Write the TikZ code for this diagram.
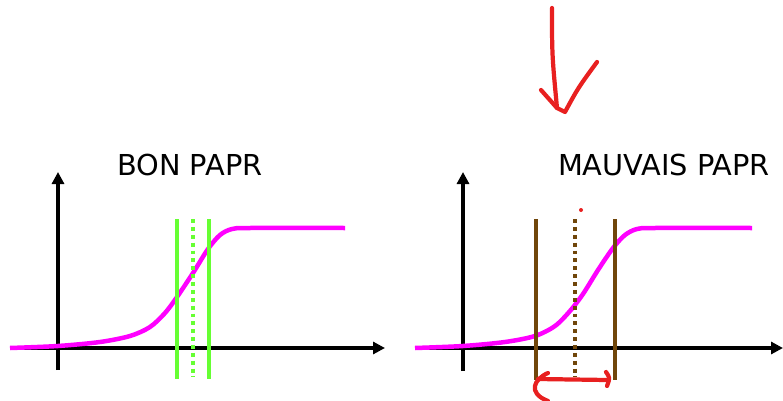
\documentclass[tikz,border=0pt]{standalone}
\usepackage{fontspec}
\setmainfont{DejaVu Sans}
\usepackage{tikz}
\usetikzlibrary{arrows.meta,positioning}
\definecolor{sigmag}{RGB}{255,0,255}
\definecolor{bongreen}{RGB}{102,255,51}
\definecolor{badbrown}{RGB}{112,70,10}
\definecolor{penred}{RGB}{232,32,32}
\tikzset{
    axis/.style={draw, line width=3pt, -{Triangle[length=3mm, width=3mm]}},
    curve/.style={draw=sigmag, line width=3.2pt},
    goodline/.style={draw=bongreen, line width=3.4pt},
    gooddots/.style={draw=bongreen, line width=3.2pt, dash pattern=on 2.8pt off 2.8pt},
    badline/.style={draw=badbrown, line width=3.2pt},
    baddots/.style={draw=badbrown, line width=3pt, dash pattern=on 2.8pt off 2.8pt},
    pen/.style={draw=penred, line width=3pt, line cap=round, line join=round},
    title/.style={anchor=base, font=\fontsize{20.5}{24}\selectfont}
}
\begin{document}
\begin{tikzpicture}[x=0.025cm, y=-0.025cm]
    \useasboundingbox (0,0) rectangle (783,401);

    % titles
    \node[title] (bon) at (190,175) {BON PAPR};
    \node[title] (mauvais) at (664,175) {MAUVAIS PAPR};

    % left axes
    \coordinate (oL) at (58,348);
    \draw[axis] (58,370) -- (58,172);
    \draw[axis] (12,348) -- (385,348);
    \draw[curve] plot[smooth, tension=0.5] coordinates {(10,348) (58,346) (100,342) (130,336) (150,327) (165,313) (177,297) (193,273) (208,249) (220,235) (232,229) (250,228) (345,228)};
    \draw[goodline] (177,219) -- (177,379);
    \draw[goodline] (209,219) -- (209,379);
    \draw[gooddots] (193,219) -- (193,377);

    % right axes
    \coordinate (oR) at (463,348);
    \draw[axis] (463,371) -- (463,172);
    \draw[axis] (416,348) -- (783,348);
    \draw[curve] plot[smooth, tension=0.5] coordinates {(415,348) (463,346) (505,342) (535,336) (555,326) (570,311) (583,294) (598,270) (613,248) (625,235) (637,229) (655,228) (752,228)};
    \draw[badline] (536,219) -- (536,380);
    \draw[badline] (615,219) -- (615,380);
    \draw[baddots] (575,219) -- (575,377);
    \fill[penred] (581,210) circle (2);

    % hand arrows
    \draw[pen] (552,8) .. controls (552,55) .. (557,108);
    \draw[pen] (541,90) -- (557,108) -- (565,112) .. controls (578,88) .. (597,62);
    \draw[pen] (538,379) -- (607,380);
    \draw[pen] (606,372) .. controls (610,378) .. (607,386);
    \draw[pen] (548,373) .. controls (534,379) and (527,393) .. (548,401);
\end{tikzpicture}
\end{document}
